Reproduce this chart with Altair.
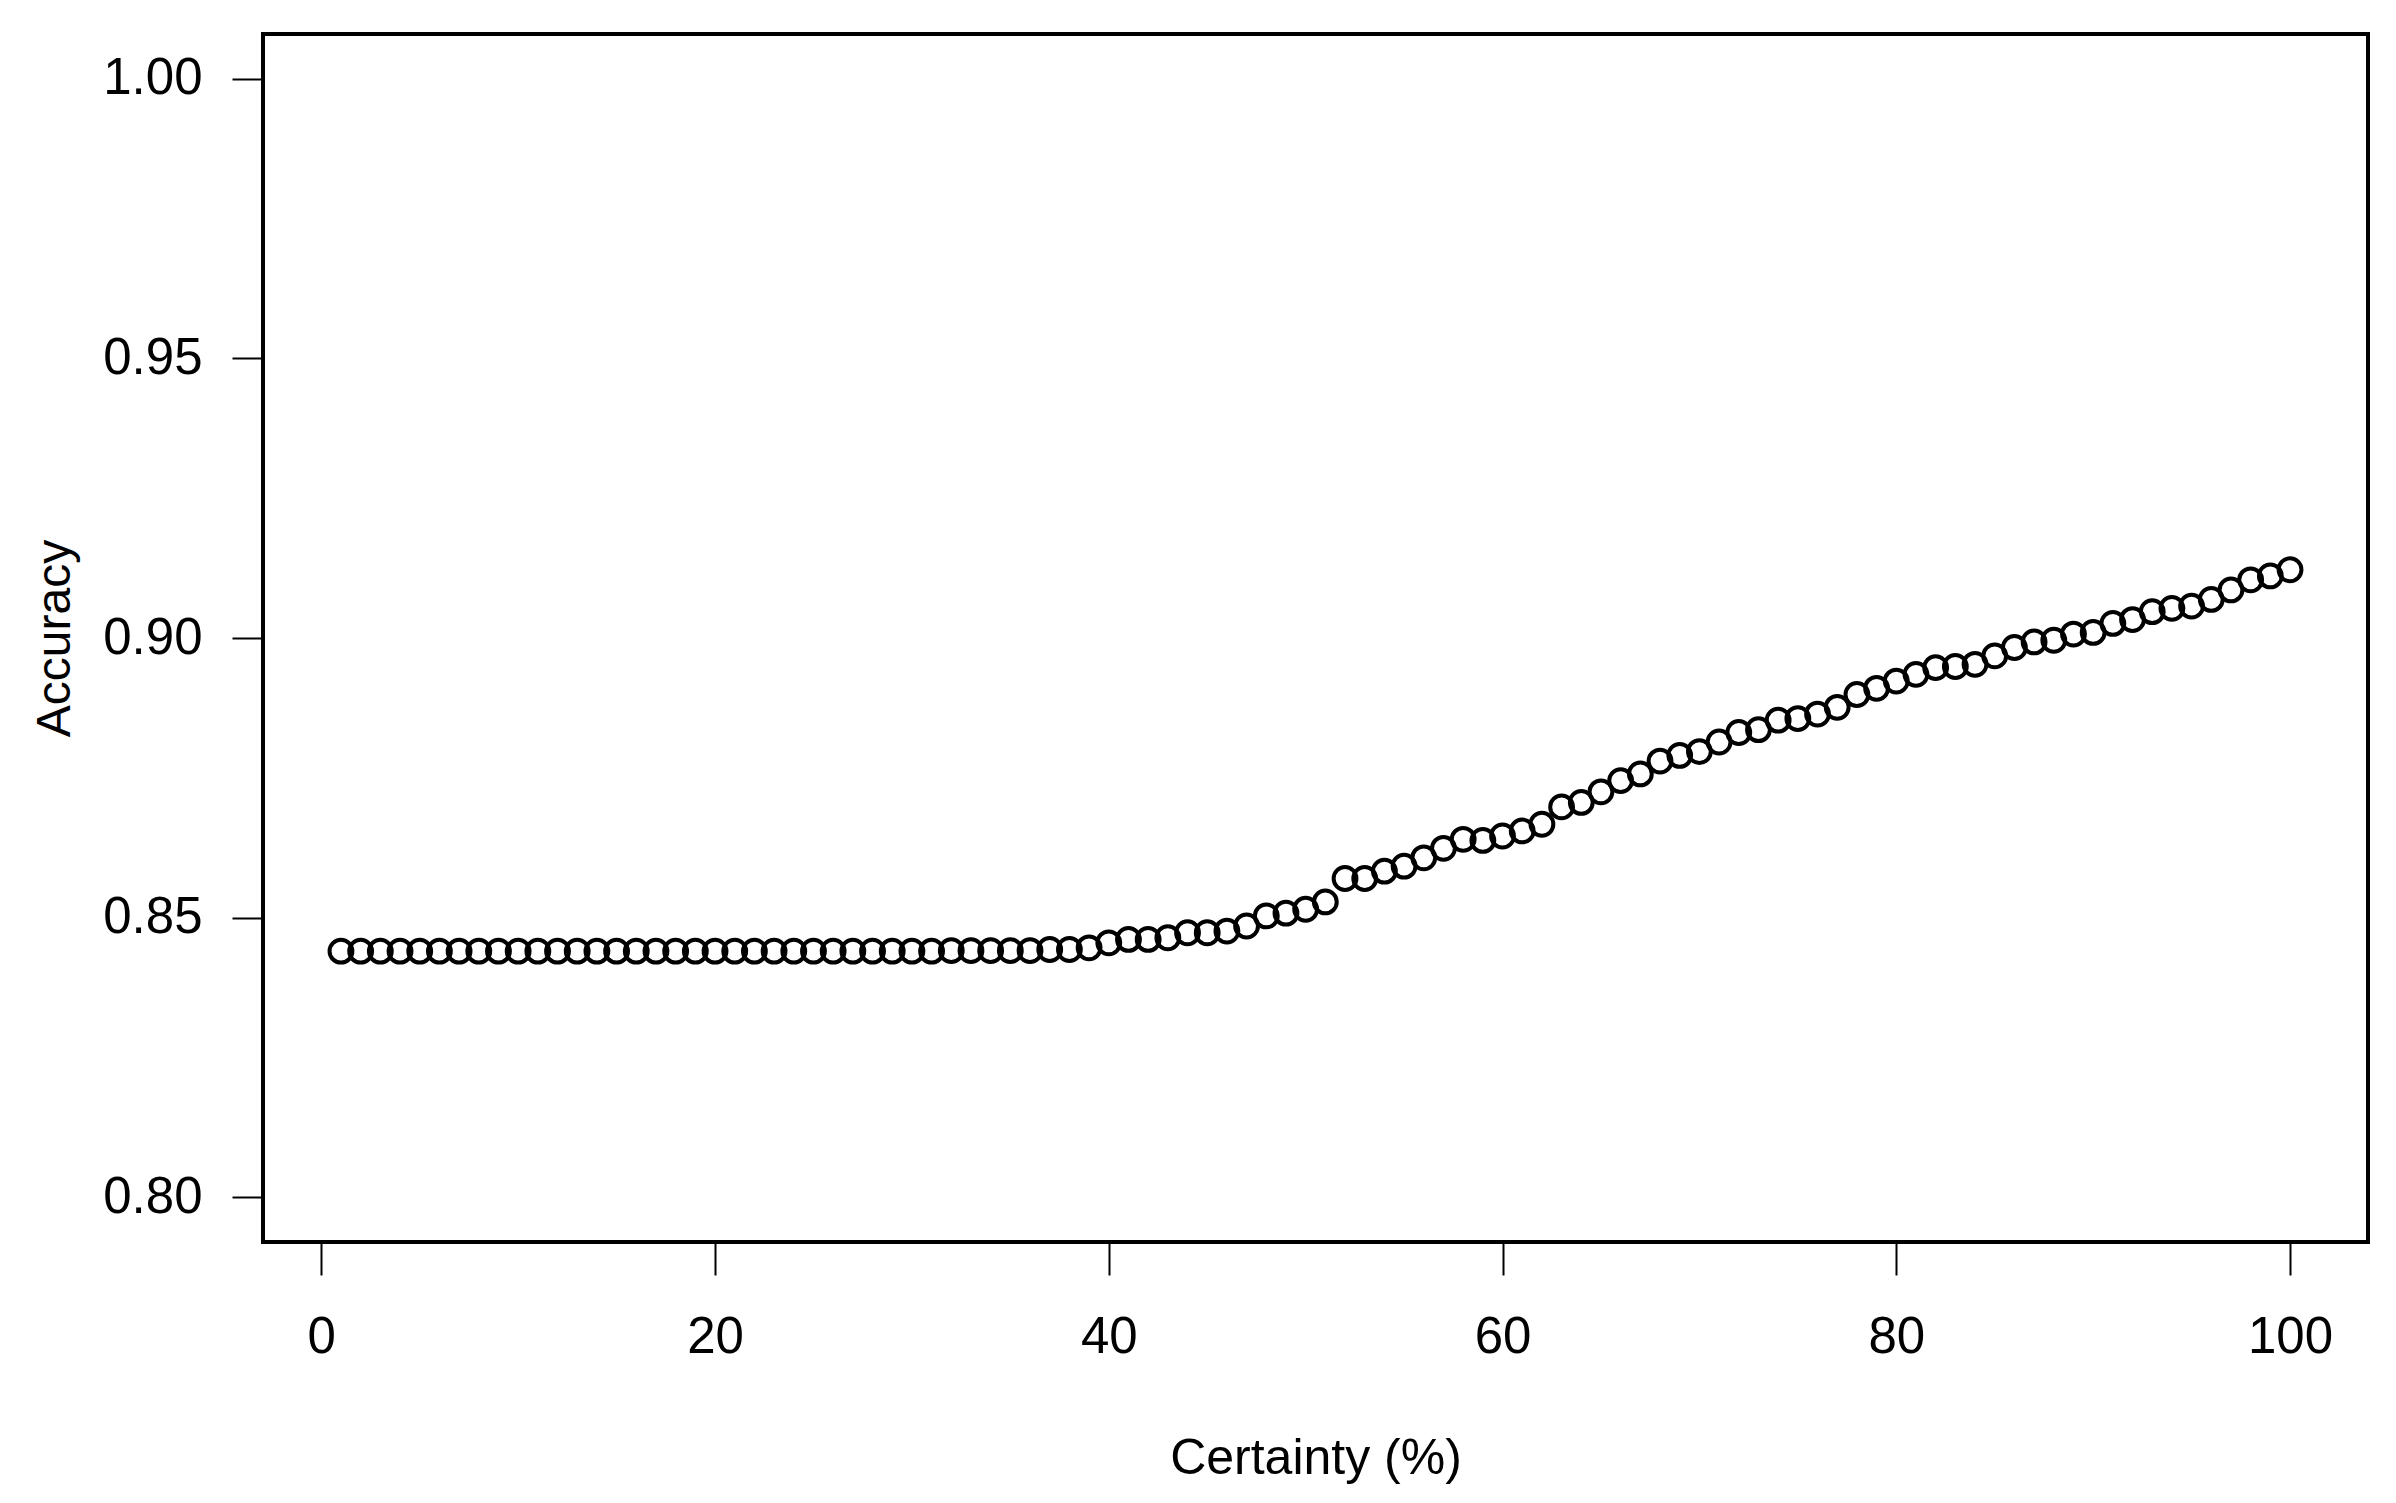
import altair as alt
import pandas as pd

certainty = list(range(1, 101))
accuracy = [
    0.8440, 0.8440, 0.8440, 0.8440, 0.8440, 0.8440, 0.8440, 0.8440, 0.8440, 0.8440,
    0.8440, 0.8440, 0.8440, 0.8440, 0.8440, 0.8440, 0.8440, 0.8440, 0.8440, 0.8440,
    0.8440, 0.8440, 0.8440, 0.8440, 0.8440, 0.8440, 0.8440, 0.8440, 0.8440, 0.8440,
    0.8440, 0.8441, 0.8441, 0.8441, 0.8441, 0.8441, 0.8443, 0.8443, 0.8446, 0.8455,
    0.8461, 0.8461, 0.8464, 0.8473, 0.8473, 0.8476, 0.8485, 0.8503, 0.8508, 0.8515,
    0.8528, 0.8570, 0.8570, 0.8583, 0.8592, 0.8607, 0.8624, 0.8640, 0.8638, 0.8646,
    0.8655, 0.8667, 0.8698, 0.8706, 0.8725, 0.8745, 0.8757, 0.8780, 0.8790, 0.8797,
    0.8814, 0.8831, 0.8836, 0.8853, 0.8856, 0.8864, 0.8876, 0.8899, 0.8910, 0.8923,
    0.8935, 0.8947, 0.8949, 0.8953, 0.8968, 0.8983, 0.8993, 0.8996, 0.9007, 0.9010,
    0.9026, 0.9033, 0.9047, 0.9053, 0.9057, 0.9069, 0.9086, 0.9104, 0.9111, 0.9122,
]
x_ticks = [0, 20, 40, 60, 80, 100]
y_ticks = [0.80, 0.85, 0.90, 0.95, 1.00]

df = pd.DataFrame({"Certainty": certainty, "Accuracy": accuracy})

FONT = "Liberation Sans"
W, H = 2105, 1208

chart = (
    alt.Chart(df)
    .mark_point(shape="circle", filled=False, color="black", strokeWidth=4, size=520, opacity=1)
    .encode(
        x=alt.X(
            "Certainty:Q",
            scale=alt.Scale(domain=[-2.96, 103.96], nice=False, zero=False),
            axis=alt.Axis(
                values=x_ticks,
                title="Certainty (%)",
                domain=False,
                grid=False,
                ticks=True,
                tickSize=33,
                tickWidth=2,
                tickColor="black",
                labelFont=FONT,
                labelFontSize=51,
                labelColor="black",
                labelPadding=37,
                labelFlush=False,
                titleFont=FONT,
                titleFontSize=50,
                titleFontWeight="normal",
                titleColor="black",
                titleBaseline="middle",
                titleY=216,
                titleX=W / 2,
            ),
        ),
        y=alt.Y(
            "Accuracy:Q",
            scale=alt.Scale(domain=[0.792, 1.008], nice=False, zero=False),
            axis=alt.Axis(
                values=y_ticks,
                format=".2f",
                title="Accuracy",
                domain=False,
                grid=False,
                ticks=True,
                tickSize=31,
                tickWidth=2,
                tickColor="black",
                labelFont=FONT,
                labelFontSize=51,
                labelColor="black",
                labelPadding=30,
                labelFlush=False,
                titleFont=FONT,
                titleFontSize=48,
                titleFontWeight="normal",
                titleColor="black",
                titleBaseline="middle",
                titleX=-208,
                titleY=H / 2,
            ),
        ),
    )
    .properties(
        width=W,
        height=H,
        autosize=alt.AutoSizeParams(type="none"),
        padding={"left": 255, "top": 26, "right": 10, "bottom": 252},
        background="white",
    )
    .configure_view(stroke="black", strokeWidth=4, fill="white")
)

chart.save("out.html", embed_options={"renderer": "svg", "actions": False})
